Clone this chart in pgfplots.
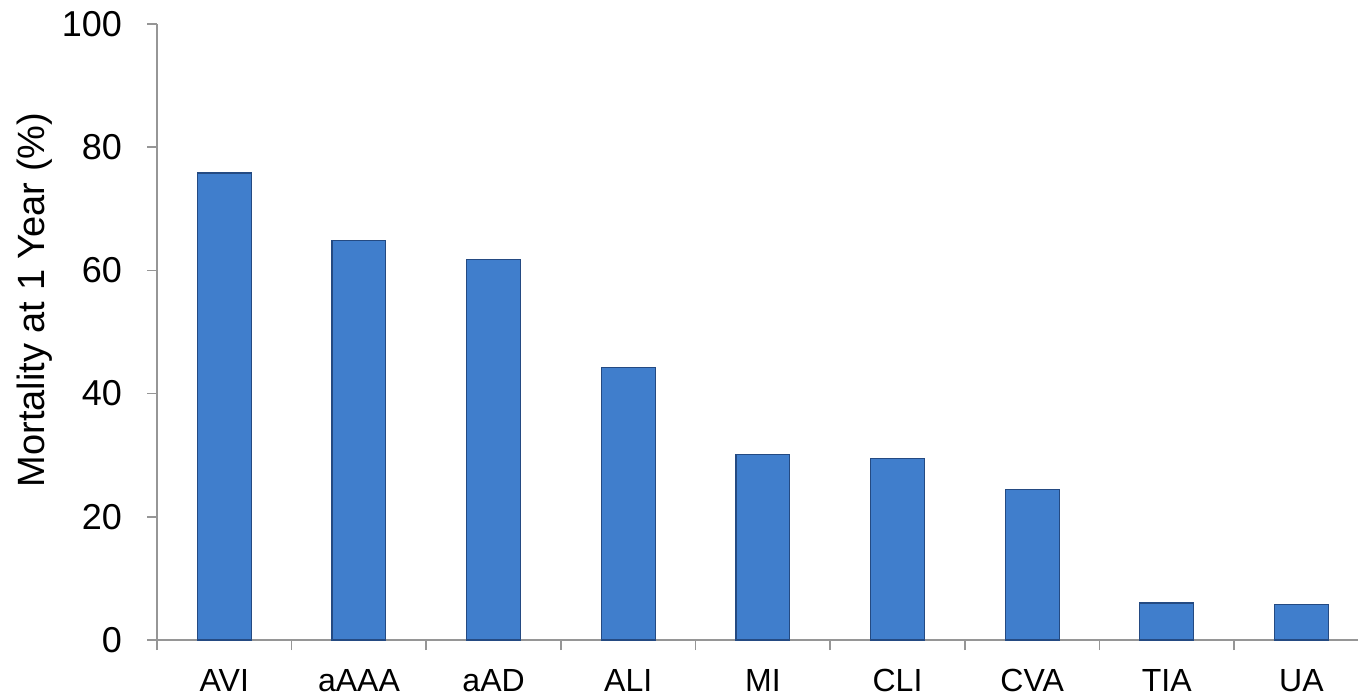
\documentclass[border=0pt]{standalone}
\usepackage{fontspec}
\setmainfont{Liberation Sans}
\usepackage{pgfplots}
\pgfplotsset{compat=1.18}
\definecolor{barmid}{RGB}{64,126,204}
\definecolor{bardark}{RGB}{36,74,130}
\definecolor{axisgray}{RGB}{150,150,150}

\begin{document}
\begin{tikzpicture}
\useasboundingbox (0,0) rectangle (679pt,348pt);
\begin{axis}[
    at={(78.5pt,28pt)}, anchor=south west,
    scale only axis,
    width=600.5pt, height=308pt,
    xmin=-0.5, xmax=8.42,
    ymin=0, ymax=100,
    axis x line*=bottom, axis y line*=left,
    axis line style={draw=axisgray, line width=0.8pt, -},
    tick align=outside,
    tick style={draw=axisgray, line width=0.8pt},
    major tick length=5pt,
    % boundary ticks between categories, no labels
    xtick={-0.5,0.5,1.5,2.5,3.5,4.5,5.5,6.5,7.5},
    xticklabels={},
    % category names at the bar centres, no tick marks
    extra x ticks={0,1,2,3,4,5,6,7,8},
    extra x tick labels={AVI,aAAA,aAD,ALI,MI,CLI,CVA,TIA,UA},
    extra x tick style={major tick length=0pt,
        xticklabel style={font=\fontsize{16}{19}\selectfont, yshift=-11pt}},
    ytick={0,20,40,60,80,100},
    /pgf/number format/assume math mode=true,
    yticklabel style={font=\fontsize{18}{21}\selectfont, xshift=-9pt},
    ylabel={Mortality at 1 Year (\%)},
    ylabel style={font=\fontsize{19}{22}\selectfont, at={(axis description cs:-0.1016,0.552)}, anchor=center},
]
\addplot[ybar, bar width=0.4, draw=bardark, line width=0.6pt, fill=barmid]
  coordinates {
    (0,75.8) (1,64.8) (2,61.8) (3,44.3) (4,30.1)
    (5,29.5) (6,24.4) (7,6.0) (8,5.8)
  };
\end{axis}
\end{tikzpicture}
\end{document}
